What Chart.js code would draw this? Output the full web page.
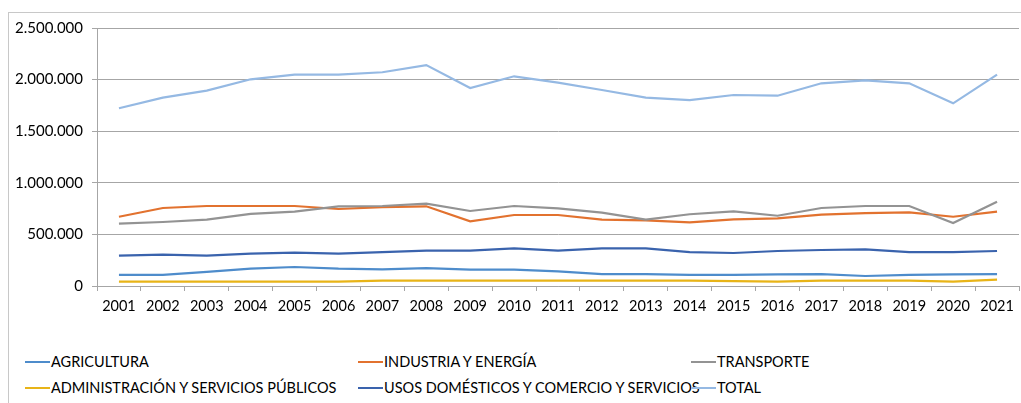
<!DOCTYPE html>
<html>
<head>
<meta charset="utf-8">
<script src="https://cdn.jsdelivr.net/npm/chart.js@4.4.1/dist/chart.umd.min.js"></script>
<style>
  html, body { margin: 0; padding: 0; background: #fff; }
  #wrap { position: relative; width: 1021px; height: 403px; overflow: hidden; }
  #frame { position: absolute; left: 8px; top: 12px; width: 1100px; height: 500px;
           border-left: 1px solid #c8c8c8; border-top: 1px solid #c8c8c8; }
  #chart { position: absolute; left: 0; top: 0; }
  .leg { position: absolute; font-family: 'Lato', sans-serif; font-size: 14.5px; color: #000;
         white-space: nowrap; line-height: 16px; letter-spacing: 0; }
  .leg i { position: absolute; left: -26px; top: 7px; width: 25px; height: 2px; }
</style>
</head>
<body>
<div id="wrap">
  <div id="frame"></div>
  <canvas id="chart" width="1021" height="330"></canvas>
  <div id="legend"></div>
</div>
<script>
// ─── DATA ─────────────────────────────────────────────────
const years = ['2001','2002','2003','2004','2005','2006','2007','2008','2009','2010','2011',
               '2012','2013','2014','2015','2016','2017','2018','2019','2020','2021'];

const agricultura   = [107000,107000,136000,168000,184000,168000,162000,174000,158000,158000,142000,
                       116000,116000,107000,107000,113000,116000,97000,107000,113000,116000];
const industria     = [671000,756000,775000,775000,775000,746000,765000,772000,627000,688000,688000,
                       643000,636000,617000,646000,656000,691000,707000,714000,671000,720000];
const transporte    = [604000,620000,643000,698000,720000,772000,775000,798000,727000,775000,753000,
                       711000,643000,695000,723000,681000,756000,775000,775000,610000,817000];
const administracion = [42000,42000,42000,42000,42000,42000,52000,52000,52000,52000,52000,
                        52000,52000,52000,48000,42000,52000,52000,52000,42000,61000];
const usosDomesticos = [294000,304000,294000,313000,323000,313000,329000,342000,342000,365000,342000,
                        365000,365000,329000,320000,339000,349000,355000,329000,329000,339000];
const total         = [1722000,1825000,1893000,2003000,2048000,2048000,2071000,2141000,1919000,2032000,1970000,
                       1899000,1825000,1802000,1851000,1844000,1964000,1993000,1964000,1770000,2048000];

const seriesNames = ['AGRICULTURA', 'INDUSTRIA Y ENERGÍA', 'TRANSPORTE',
                     'ADMINISTRACIÓN Y SERVICIOS PÚBLICOS', 'USOS DOMÉSTICOS Y COMERCIO Y SERVICIOS', 'TOTAL'];
const seriesData  = [agricultura, industria, transporte, administracion, usosDomesticos, total];
const seriesColors = ['#4E8CCB', '#E2722F', '#939393', '#E8B418', '#3A63AD', '#95B9E3'];

const yTicks = [0, 500000, 1000000, 1500000, 2000000, 2500000];

// ─── HELPERS ──────────────────────────────────────────────
const fmtDot = (v) => String(Math.round(v)).replace(/\B(?=(\d{3})+(?!\d))/g, '.');

// ─── CHART ────────────────────────────────────────────────
const n = seriesNames.length;
new Chart(document.getElementById('chart'), {
    type: 'line',
    data: {
        labels: years,
        datasets: seriesNames.map((name, i) => ({
            label: name,
            data: seriesData[i],
            borderColor: seriesColors[i],
            backgroundColor: seriesColors[i],
            borderWidth: 2.2,
            pointRadius: 0,
            tension: 0,
            fill: false,
            order: n - i,
        })),
    },
    options: {
        responsive: false,
        animation: false,
        layout: { padding: { top: 28, right: 2, left: 0, bottom: 0 } },
        plugins: { legend: { display: false }, tooltip: { enabled: false } },
        scales: {
            x: {
                offset: true,
                grid: { offset: true, drawOnChartArea: false, color: '#a6a6a6', tickLength: 5 },
                border: { color: '#a6a6a6' },
                ticks: { color: '#000', font: { family: 'Lato', size: 14.5 }, padding: 7, maxRotation: 0, autoSkip: false },
                afterFit: (s) => { s.height = 44; },
            },
            y: {
                min: 0,
                max: 2500000,
                afterBuildTicks: (s) => { s.ticks = yTicks.map(v => ({ value: v })); },
                grid: { color: '#a6a6a6', tickLength: 5 },
                border: { color: '#a6a6a6' },
                ticks: { color: '#000', font: { family: 'Lato', size: 15 }, padding: 9, callback: fmtDot },
                afterFit: (s) => { s.width = 97; },
            },
        },
    },
});

// ─── LEGEND ───────────────────────────────────────────────
const legCols = [51, 384, 717];
const legRows = [354, 380];
const legend = document.getElementById('legend');
seriesNames.forEach((name, i) => {
    const el = document.createElement('div');
    el.className = 'leg';
    el.style.left = legCols[i % 3] + 'px';
    el.style.top = legRows[Math.floor(i / 3)] + 'px';
    el.innerHTML = `<i style="background:${seriesColors[i]}"></i>${name}`;
    legend.appendChild(el);
});
</script>
</body>
</html>
